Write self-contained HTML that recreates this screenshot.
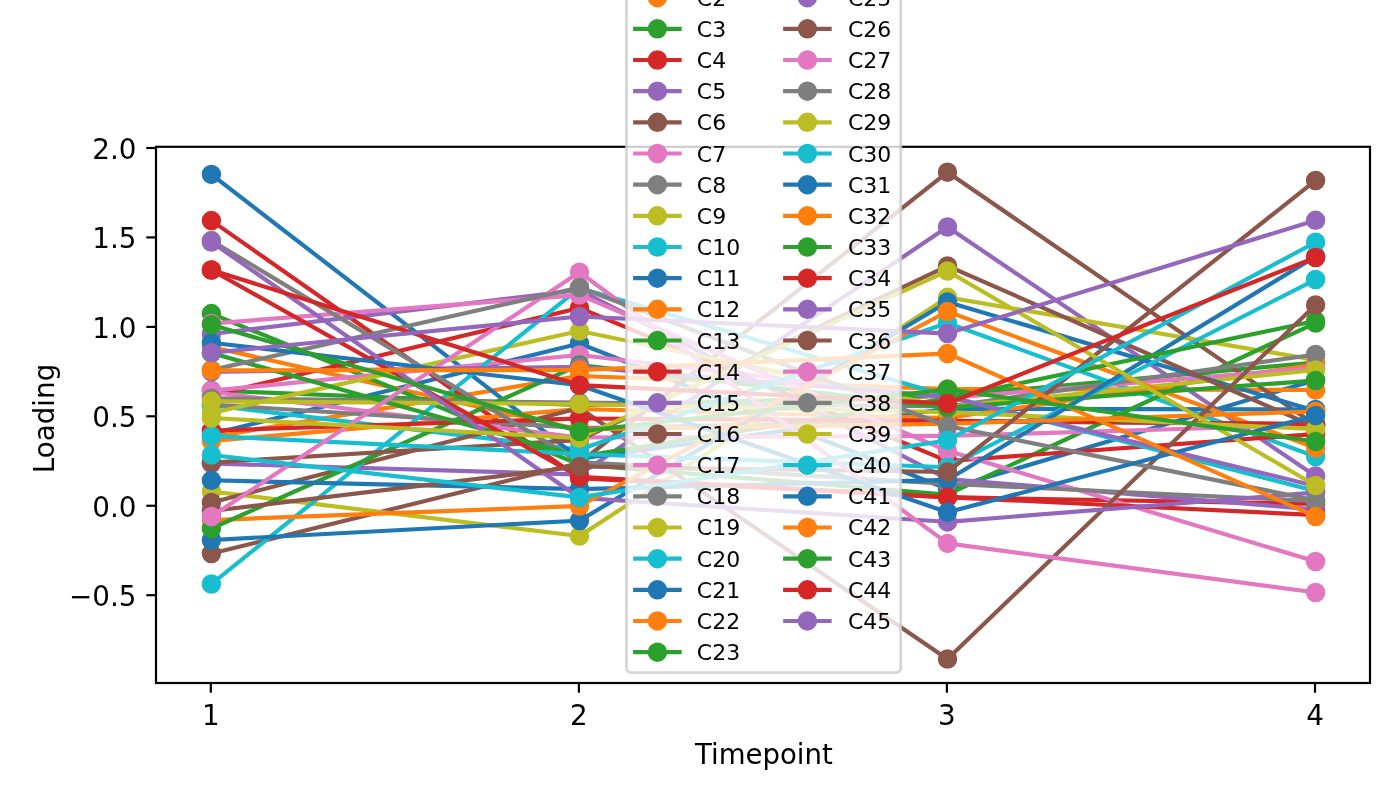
<!DOCTYPE html>
<html lang="en"><head><meta charset="utf-8"><title>Loading by Timepoint</title>
<style>html,body{margin:0;padding:0;background:#fff;}body{width:1400px;height:800px;overflow:hidden;}svg{display:block;}text{font-family:"DejaVu Sans","Liberation Sans",sans-serif;fill:#000;}</style></head><body>
<svg width="1400" height="800" viewBox="0 0 1400 800">
<rect x="0" y="0" width="1400" height="800" fill="#fff"/>
<defs><clipPath id="ax"><rect x="156.0" y="146.8" width="1214.0" height="536.2"/></clipPath></defs>
<g clip-path="url(#ax)" fill="none" stroke-width="4.17" stroke-linejoin="round" stroke-linecap="square">
<line x1="211.4" y1="434.0" x2="579.5" y2="343.5" stroke="#1f77b4"/>
<line x1="579.5" y1="343.5" x2="947.5" y2="489.0" stroke="#1f77b4"/>
<line x1="947.5" y1="489.0" x2="1315.6" y2="380.0" stroke="#1f77b4"/>
<circle cx="211.4" cy="434.0" r="8.35" fill="#1f77b4" stroke="#1f77b4" stroke-width="2.78"/>
<circle cx="579.5" cy="343.5" r="8.35" fill="#1f77b4" stroke="#1f77b4" stroke-width="2.78"/>
<circle cx="947.5" cy="489.0" r="8.35" fill="#1f77b4" stroke="#1f77b4" stroke-width="2.78"/>
<circle cx="1315.6" cy="380.0" r="8.35" fill="#1f77b4" stroke="#1f77b4" stroke-width="2.78"/>
<line x1="211.4" y1="437.0" x2="579.5" y2="376.0" stroke="#ff7f0e"/>
<line x1="579.5" y1="376.0" x2="947.5" y2="389.0" stroke="#ff7f0e"/>
<line x1="947.5" y1="389.0" x2="1315.6" y2="390.0" stroke="#ff7f0e"/>
<circle cx="211.4" cy="437.0" r="8.35" fill="#ff7f0e" stroke="#ff7f0e" stroke-width="2.78"/>
<circle cx="579.5" cy="376.0" r="8.35" fill="#ff7f0e" stroke="#ff7f0e" stroke-width="2.78"/>
<circle cx="947.5" cy="389.0" r="8.35" fill="#ff7f0e" stroke="#ff7f0e" stroke-width="2.78"/>
<circle cx="1315.6" cy="390.0" r="8.35" fill="#ff7f0e" stroke="#ff7f0e" stroke-width="2.78"/>
<line x1="211.4" y1="390.5" x2="579.5" y2="405.0" stroke="#2ca02c"/>
<line x1="579.5" y1="405.0" x2="947.5" y2="396.0" stroke="#2ca02c"/>
<line x1="947.5" y1="396.0" x2="1315.6" y2="362.5" stroke="#2ca02c"/>
<circle cx="211.4" cy="390.5" r="8.35" fill="#2ca02c" stroke="#2ca02c" stroke-width="2.78"/>
<circle cx="579.5" cy="405.0" r="8.35" fill="#2ca02c" stroke="#2ca02c" stroke-width="2.78"/>
<circle cx="947.5" cy="396.0" r="8.35" fill="#2ca02c" stroke="#2ca02c" stroke-width="2.78"/>
<circle cx="1315.6" cy="362.5" r="8.35" fill="#2ca02c" stroke="#2ca02c" stroke-width="2.78"/>
<line x1="211.4" y1="220.6" x2="579.5" y2="478.3" stroke="#d62728"/>
<line x1="579.5" y1="478.3" x2="947.5" y2="497.2" stroke="#d62728"/>
<line x1="947.5" y1="497.2" x2="1315.6" y2="504.0" stroke="#d62728"/>
<circle cx="947.5" cy="398.5" r="8.35" fill="#2ca02c" stroke="#2ca02c" stroke-width="2.78"/>
<circle cx="211.4" cy="220.6" r="8.35" fill="#d62728" stroke="#d62728" stroke-width="2.78"/>
<circle cx="579.5" cy="478.3" r="8.35" fill="#d62728" stroke="#d62728" stroke-width="2.78"/>
<circle cx="947.5" cy="497.2" r="8.35" fill="#d62728" stroke="#d62728" stroke-width="2.78"/>
<circle cx="1315.6" cy="504.0" r="8.35" fill="#d62728" stroke="#d62728" stroke-width="2.78"/>
<line x1="211.4" y1="463.5" x2="579.5" y2="474.5" stroke="#9467bd"/>
<line x1="579.5" y1="474.5" x2="947.5" y2="227.0" stroke="#9467bd"/>
<line x1="947.5" y1="227.0" x2="1315.6" y2="476.0" stroke="#9467bd"/>
<circle cx="211.4" cy="463.5" r="8.35" fill="#9467bd" stroke="#9467bd" stroke-width="2.78"/>
<circle cx="579.5" cy="474.5" r="8.35" fill="#9467bd" stroke="#9467bd" stroke-width="2.78"/>
<circle cx="947.5" cy="227.0" r="8.35" fill="#9467bd" stroke="#9467bd" stroke-width="2.78"/>
<circle cx="1315.6" cy="476.0" r="8.35" fill="#9467bd" stroke="#9467bd" stroke-width="2.78"/>
<line x1="211.4" y1="553.5" x2="579.5" y2="463.0" stroke="#8c564b"/>
<line x1="579.5" y1="463.0" x2="947.5" y2="172.2" stroke="#8c564b"/>
<line x1="947.5" y1="172.2" x2="1315.6" y2="425.0" stroke="#8c564b"/>
<circle cx="211.4" cy="553.5" r="8.35" fill="#8c564b" stroke="#8c564b" stroke-width="2.78"/>
<circle cx="579.5" cy="463.0" r="8.35" fill="#8c564b" stroke="#8c564b" stroke-width="2.78"/>
<circle cx="947.5" cy="172.2" r="8.35" fill="#8c564b" stroke="#8c564b" stroke-width="2.78"/>
<circle cx="1315.6" cy="425.0" r="8.35" fill="#8c564b" stroke="#8c564b" stroke-width="2.78"/>
<line x1="579.5" y1="355.0" x2="947.5" y2="398.0" stroke="#e377c2"/>
<circle cx="211.4" cy="390.7" r="8.35" fill="#e377c2" stroke="#e377c2" stroke-width="2.78"/>
<circle cx="579.5" cy="355.0" r="8.35" fill="#e377c2" stroke="#e377c2" stroke-width="2.78"/>
<circle cx="947.5" cy="398.0" r="8.35" fill="#e377c2" stroke="#e377c2" stroke-width="2.78"/>
<line x1="579.5" y1="428.0" x2="947.5" y2="421.0" stroke="#7f7f7f"/>
<line x1="947.5" y1="421.0" x2="1315.6" y2="424.2" stroke="#7f7f7f"/>
<circle cx="211.4" cy="404.5" r="8.35" fill="#7f7f7f" stroke="#7f7f7f" stroke-width="2.78"/>
<circle cx="579.5" cy="428.0" r="8.35" fill="#7f7f7f" stroke="#7f7f7f" stroke-width="2.78"/>
<circle cx="947.5" cy="421.0" r="8.35" fill="#7f7f7f" stroke="#7f7f7f" stroke-width="2.78"/>
<circle cx="1315.6" cy="424.2" r="8.35" fill="#7f7f7f" stroke="#7f7f7f" stroke-width="2.78"/>
<line x1="211.4" y1="491.5" x2="579.5" y2="536.0" stroke="#bcbd22"/>
<line x1="579.5" y1="536.0" x2="947.5" y2="297.3" stroke="#bcbd22"/>
<line x1="947.5" y1="297.3" x2="1315.6" y2="360.0" stroke="#bcbd22"/>
<circle cx="211.4" cy="491.5" r="8.35" fill="#bcbd22" stroke="#bcbd22" stroke-width="2.78"/>
<circle cx="579.5" cy="536.0" r="8.35" fill="#bcbd22" stroke="#bcbd22" stroke-width="2.78"/>
<circle cx="947.5" cy="297.3" r="8.35" fill="#bcbd22" stroke="#bcbd22" stroke-width="2.78"/>
<circle cx="1315.6" cy="360.0" r="8.35" fill="#bcbd22" stroke="#bcbd22" stroke-width="2.78"/>
<line x1="211.4" y1="405.3" x2="579.5" y2="449.5" stroke="#17becf"/>
<line x1="947.5" y1="323.0" x2="1315.6" y2="456.5" stroke="#17becf"/>
<circle cx="211.4" cy="405.3" r="8.35" fill="#17becf" stroke="#17becf" stroke-width="2.78"/>
<circle cx="947.5" cy="323.0" r="8.35" fill="#17becf" stroke="#17becf" stroke-width="2.78"/>
<circle cx="1315.6" cy="456.5" r="8.35" fill="#17becf" stroke="#17becf" stroke-width="2.78"/>
<line x1="211.4" y1="174.4" x2="579.5" y2="458.6" stroke="#1f77b4"/>
<line x1="579.5" y1="458.6" x2="947.5" y2="408.8" stroke="#1f77b4"/>
<line x1="947.5" y1="408.8" x2="1315.6" y2="409.5" stroke="#1f77b4"/>
<circle cx="211.4" cy="174.4" r="8.35" fill="#1f77b4" stroke="#1f77b4" stroke-width="2.78"/>
<circle cx="579.5" cy="458.6" r="8.35" fill="#1f77b4" stroke="#1f77b4" stroke-width="2.78"/>
<circle cx="947.5" cy="408.8" r="8.35" fill="#1f77b4" stroke="#1f77b4" stroke-width="2.78"/>
<circle cx="1315.6" cy="409.5" r="8.35" fill="#1f77b4" stroke="#1f77b4" stroke-width="2.78"/>
<circle cx="579.5" cy="408.0" r="8.35" fill="#8c564b" stroke="#8c564b" stroke-width="2.78"/>
<line x1="211.4" y1="347.0" x2="579.5" y2="429.5" stroke="#ff7f0e"/>
<line x1="211.4" y1="441.0" x2="579.5" y2="409.0" stroke="#ff7f0e"/>
<line x1="579.5" y1="409.0" x2="947.5" y2="418.0" stroke="#ff7f0e"/>
<line x1="947.5" y1="418.0" x2="1315.6" y2="364.5" stroke="#ff7f0e"/>
<circle cx="211.4" cy="441.0" r="8.35" fill="#ff7f0e" stroke="#ff7f0e" stroke-width="2.78"/>
<circle cx="579.5" cy="409.0" r="8.35" fill="#ff7f0e" stroke="#ff7f0e" stroke-width="2.78"/>
<circle cx="947.5" cy="418.0" r="8.35" fill="#ff7f0e" stroke="#ff7f0e" stroke-width="2.78"/>
<circle cx="1315.6" cy="364.5" r="8.35" fill="#ff7f0e" stroke="#ff7f0e" stroke-width="2.78"/>
<line x1="211.4" y1="313.6" x2="579.5" y2="464.5" stroke="#2ca02c"/>
<line x1="579.5" y1="464.5" x2="947.5" y2="494.6" stroke="#2ca02c"/>
<line x1="947.5" y1="494.6" x2="1315.6" y2="323.0" stroke="#2ca02c"/>
<line x1="947.5" y1="398.0" x2="1315.6" y2="368.0" stroke="#e377c2"/>
<circle cx="211.4" cy="313.6" r="8.35" fill="#2ca02c" stroke="#2ca02c" stroke-width="2.78"/>
<circle cx="579.5" cy="464.5" r="8.35" fill="#2ca02c" stroke="#2ca02c" stroke-width="2.78"/>
<circle cx="947.5" cy="494.6" r="8.35" fill="#2ca02c" stroke="#2ca02c" stroke-width="2.78"/>
<circle cx="1315.6" cy="323.0" r="8.35" fill="#2ca02c" stroke="#2ca02c" stroke-width="2.78"/>
<circle cx="1315.6" cy="368.0" r="8.35" fill="#e377c2" stroke="#e377c2" stroke-width="2.78"/>
<line x1="211.4" y1="395.6" x2="579.5" y2="308.0" stroke="#d62728"/>
<line x1="579.5" y1="308.0" x2="947.5" y2="461.0" stroke="#d62728"/>
<line x1="947.5" y1="461.0" x2="1315.6" y2="434.0" stroke="#d62728"/>
<circle cx="211.4" cy="395.6" r="8.35" fill="#d62728" stroke="#d62728" stroke-width="2.78"/>
<circle cx="579.5" cy="308.0" r="8.35" fill="#d62728" stroke="#d62728" stroke-width="2.78"/>
<circle cx="947.5" cy="461.0" r="8.35" fill="#d62728" stroke="#d62728" stroke-width="2.78"/>
<circle cx="1315.6" cy="434.0" r="8.35" fill="#d62728" stroke="#d62728" stroke-width="2.78"/>
<line x1="211.4" y1="334.0" x2="579.5" y2="290.0" stroke="#9467bd"/>
<line x1="579.5" y1="290.0" x2="947.5" y2="479.0" stroke="#9467bd"/>
<line x1="947.5" y1="479.0" x2="1315.6" y2="509.5" stroke="#9467bd"/>
<line x1="211.4" y1="390.7" x2="579.5" y2="355.0" stroke="#e377c2"/>
<circle cx="211.4" cy="334.0" r="8.35" fill="#9467bd" stroke="#9467bd" stroke-width="2.78"/>
<circle cx="579.5" cy="290.0" r="8.35" fill="#9467bd" stroke="#9467bd" stroke-width="2.78"/>
<circle cx="947.5" cy="479.0" r="8.35" fill="#9467bd" stroke="#9467bd" stroke-width="2.78"/>
<circle cx="1315.6" cy="509.5" r="8.35" fill="#9467bd" stroke="#9467bd" stroke-width="2.78"/>
<line x1="211.4" y1="502.5" x2="579.5" y2="408.0" stroke="#8c564b"/>
<line x1="579.5" y1="408.0" x2="947.5" y2="659.0" stroke="#8c564b"/>
<circle cx="211.4" cy="502.5" r="8.35" fill="#8c564b" stroke="#8c564b" stroke-width="2.78"/>
<circle cx="947.5" cy="659.0" r="8.35" fill="#8c564b" stroke="#8c564b" stroke-width="2.78"/>
<line x1="211.4" y1="392.0" x2="579.5" y2="437.5" stroke="#e377c2"/>
<line x1="579.5" y1="437.5" x2="947.5" y2="435.8" stroke="#e377c2"/>
<line x1="947.5" y1="435.8" x2="1315.6" y2="425.0" stroke="#e377c2"/>
<circle cx="211.4" cy="392.0" r="8.35" fill="#e377c2" stroke="#e377c2" stroke-width="2.78"/>
<circle cx="579.5" cy="437.5" r="8.35" fill="#e377c2" stroke="#e377c2" stroke-width="2.78"/>
<circle cx="947.5" cy="435.8" r="8.35" fill="#e377c2" stroke="#e377c2" stroke-width="2.78"/>
<circle cx="1315.6" cy="425.0" r="8.35" fill="#e377c2" stroke="#e377c2" stroke-width="2.78"/>
<line x1="211.4" y1="404.5" x2="579.5" y2="428.0" stroke="#7f7f7f"/>
<line x1="579.5" y1="456.5" x2="947.5" y2="398.5" stroke="#2ca02c"/>
<line x1="211.4" y1="398.3" x2="579.5" y2="402.6" stroke="#7f7f7f"/>
<line x1="579.5" y1="402.6" x2="947.5" y2="406.5" stroke="#7f7f7f"/>
<line x1="947.5" y1="406.5" x2="1315.6" y2="354.5" stroke="#7f7f7f"/>
<circle cx="211.4" cy="398.3" r="8.35" fill="#7f7f7f" stroke="#7f7f7f" stroke-width="2.78"/>
<circle cx="579.5" cy="402.6" r="8.35" fill="#7f7f7f" stroke="#7f7f7f" stroke-width="2.78"/>
<circle cx="947.5" cy="406.5" r="8.35" fill="#7f7f7f" stroke="#7f7f7f" stroke-width="2.78"/>
<circle cx="1315.6" cy="354.5" r="8.35" fill="#7f7f7f" stroke="#7f7f7f" stroke-width="2.78"/>
<line x1="211.4" y1="413.0" x2="579.5" y2="331.0" stroke="#bcbd22"/>
<line x1="579.5" y1="331.0" x2="947.5" y2="407.0" stroke="#bcbd22"/>
<line x1="947.5" y1="407.0" x2="1315.6" y2="370.0" stroke="#bcbd22"/>
<circle cx="211.4" cy="413.0" r="8.35" fill="#bcbd22" stroke="#bcbd22" stroke-width="2.78"/>
<circle cx="579.5" cy="331.0" r="8.35" fill="#bcbd22" stroke="#bcbd22" stroke-width="2.78"/>
<circle cx="947.5" cy="407.0" r="8.35" fill="#bcbd22" stroke="#bcbd22" stroke-width="2.78"/>
<circle cx="1315.6" cy="370.0" r="8.35" fill="#bcbd22" stroke="#bcbd22" stroke-width="2.78"/>
<line x1="211.4" y1="584.0" x2="579.5" y2="288.0" stroke="#17becf"/>
<line x1="579.5" y1="288.0" x2="947.5" y2="396.0" stroke="#17becf"/>
<line x1="947.5" y1="396.0" x2="1315.6" y2="491.0" stroke="#17becf"/>
<circle cx="579.5" cy="429.5" r="8.35" fill="#ff7f0e" stroke="#ff7f0e" stroke-width="2.78"/>
<circle cx="211.4" cy="584.0" r="8.35" fill="#17becf" stroke="#17becf" stroke-width="2.78"/>
<circle cx="579.5" cy="288.0" r="8.35" fill="#17becf" stroke="#17becf" stroke-width="2.78"/>
<circle cx="947.5" cy="396.0" r="8.35" fill="#17becf" stroke="#17becf" stroke-width="2.78"/>
<circle cx="1315.6" cy="491.0" r="8.35" fill="#17becf" stroke="#17becf" stroke-width="2.78"/>
<line x1="211.4" y1="540.0" x2="579.5" y2="520.6" stroke="#1f77b4"/>
<line x1="579.5" y1="520.6" x2="947.5" y2="302.0" stroke="#1f77b4"/>
<line x1="947.5" y1="302.0" x2="1315.6" y2="411.0" stroke="#1f77b4"/>
<circle cx="211.4" cy="540.0" r="8.35" fill="#1f77b4" stroke="#1f77b4" stroke-width="2.78"/>
<circle cx="579.5" cy="520.6" r="8.35" fill="#1f77b4" stroke="#1f77b4" stroke-width="2.78"/>
<circle cx="947.5" cy="302.0" r="8.35" fill="#1f77b4" stroke="#1f77b4" stroke-width="2.78"/>
<circle cx="1315.6" cy="411.0" r="8.35" fill="#1f77b4" stroke="#1f77b4" stroke-width="2.78"/>
<line x1="211.4" y1="520.0" x2="579.5" y2="506.0" stroke="#ff7f0e"/>
<line x1="947.5" y1="311.5" x2="1315.6" y2="448.0" stroke="#ff7f0e"/>
<circle cx="211.4" cy="520.0" r="8.35" fill="#ff7f0e" stroke="#ff7f0e" stroke-width="2.78"/>
<circle cx="579.5" cy="506.0" r="8.35" fill="#ff7f0e" stroke="#ff7f0e" stroke-width="2.78"/>
<circle cx="947.5" cy="311.5" r="8.35" fill="#ff7f0e" stroke="#ff7f0e" stroke-width="2.78"/>
<circle cx="1315.6" cy="448.0" r="8.35" fill="#ff7f0e" stroke="#ff7f0e" stroke-width="2.78"/>
<line x1="211.4" y1="528.5" x2="579.5" y2="365.0" stroke="#2ca02c"/>
<line x1="579.5" y1="365.0" x2="947.5" y2="407.6" stroke="#2ca02c"/>
<line x1="947.5" y1="407.6" x2="1315.6" y2="380.5" stroke="#2ca02c"/>
<circle cx="211.4" cy="528.5" r="8.35" fill="#2ca02c" stroke="#2ca02c" stroke-width="2.78"/>
<circle cx="579.5" cy="365.0" r="8.35" fill="#2ca02c" stroke="#2ca02c" stroke-width="2.78"/>
<circle cx="1315.6" cy="380.5" r="8.35" fill="#2ca02c" stroke="#2ca02c" stroke-width="2.78"/>
<line x1="211.4" y1="430.5" x2="579.5" y2="418.5" stroke="#d62728"/>
<line x1="579.5" y1="418.5" x2="947.5" y2="420.8" stroke="#d62728"/>
<line x1="947.5" y1="420.8" x2="1315.6" y2="424.0" stroke="#d62728"/>
<circle cx="211.4" cy="430.5" r="8.35" fill="#d62728" stroke="#d62728" stroke-width="2.78"/>
<circle cx="579.5" cy="418.5" r="8.35" fill="#d62728" stroke="#d62728" stroke-width="2.78"/>
<circle cx="947.5" cy="420.8" r="8.35" fill="#d62728" stroke="#d62728" stroke-width="2.78"/>
<circle cx="1315.6" cy="424.0" r="8.35" fill="#d62728" stroke="#d62728" stroke-width="2.78"/>
<line x1="211.4" y1="371.8" x2="579.5" y2="366.8" stroke="#9467bd"/>
<line x1="579.5" y1="366.8" x2="947.5" y2="396.8" stroke="#9467bd"/>
<line x1="947.5" y1="396.8" x2="1315.6" y2="486.0" stroke="#9467bd"/>
<circle cx="211.4" cy="371.8" r="8.35" fill="#9467bd" stroke="#9467bd" stroke-width="2.78"/>
<circle cx="579.5" cy="366.8" r="8.35" fill="#9467bd" stroke="#9467bd" stroke-width="2.78"/>
<circle cx="947.5" cy="396.8" r="8.35" fill="#9467bd" stroke="#9467bd" stroke-width="2.78"/>
<circle cx="1315.6" cy="486.0" r="8.35" fill="#9467bd" stroke="#9467bd" stroke-width="2.78"/>
<line x1="211.4" y1="462.5" x2="579.5" y2="440.0" stroke="#8c564b"/>
<line x1="579.5" y1="440.0" x2="947.5" y2="266.0" stroke="#8c564b"/>
<line x1="947.5" y1="266.0" x2="1315.6" y2="427.0" stroke="#8c564b"/>
<circle cx="211.4" cy="462.5" r="8.35" fill="#8c564b" stroke="#8c564b" stroke-width="2.78"/>
<circle cx="579.5" cy="440.0" r="8.35" fill="#8c564b" stroke="#8c564b" stroke-width="2.78"/>
<circle cx="947.5" cy="266.0" r="8.35" fill="#8c564b" stroke="#8c564b" stroke-width="2.78"/>
<circle cx="1315.6" cy="427.0" r="8.35" fill="#8c564b" stroke="#8c564b" stroke-width="2.78"/>
<line x1="211.4" y1="323.5" x2="579.5" y2="295.0" stroke="#e377c2"/>
<line x1="579.5" y1="295.0" x2="947.5" y2="450.8" stroke="#e377c2"/>
<line x1="947.5" y1="450.8" x2="1315.6" y2="561.5" stroke="#e377c2"/>
<circle cx="211.4" cy="323.5" r="8.35" fill="#e377c2" stroke="#e377c2" stroke-width="2.78"/>
<circle cx="579.5" cy="295.0" r="8.35" fill="#e377c2" stroke="#e377c2" stroke-width="2.78"/>
<circle cx="947.5" cy="450.8" r="8.35" fill="#e377c2" stroke="#e377c2" stroke-width="2.78"/>
<circle cx="1315.6" cy="561.5" r="8.35" fill="#e377c2" stroke="#e377c2" stroke-width="2.78"/>
<line x1="211.4" y1="240.6" x2="579.5" y2="462.0" stroke="#7f7f7f"/>
<line x1="579.5" y1="462.0" x2="947.5" y2="483.8" stroke="#7f7f7f"/>
<line x1="947.5" y1="483.8" x2="1315.6" y2="501.0" stroke="#7f7f7f"/>
<circle cx="211.4" cy="240.6" r="8.35" fill="#7f7f7f" stroke="#7f7f7f" stroke-width="2.78"/>
<circle cx="579.5" cy="462.0" r="8.35" fill="#7f7f7f" stroke="#7f7f7f" stroke-width="2.78"/>
<circle cx="947.5" cy="483.8" r="8.35" fill="#7f7f7f" stroke="#7f7f7f" stroke-width="2.78"/>
<circle cx="1315.6" cy="501.0" r="8.35" fill="#7f7f7f" stroke="#7f7f7f" stroke-width="2.78"/>
<line x1="211.4" y1="401.3" x2="579.5" y2="404.0" stroke="#bcbd22"/>
<line x1="579.5" y1="404.0" x2="947.5" y2="412.2" stroke="#bcbd22"/>
<line x1="947.5" y1="412.2" x2="1315.6" y2="429.0" stroke="#bcbd22"/>
<circle cx="211.4" cy="401.3" r="8.35" fill="#bcbd22" stroke="#bcbd22" stroke-width="2.78"/>
<circle cx="579.5" cy="404.0" r="8.35" fill="#bcbd22" stroke="#bcbd22" stroke-width="2.78"/>
<circle cx="947.5" cy="412.2" r="8.35" fill="#bcbd22" stroke="#bcbd22" stroke-width="2.78"/>
<circle cx="1315.6" cy="429.0" r="8.35" fill="#bcbd22" stroke="#bcbd22" stroke-width="2.78"/>
<line x1="947.5" y1="467.2" x2="1315.6" y2="279.5" stroke="#17becf"/>
<circle cx="211.4" cy="436.0" r="8.35" fill="#17becf" stroke="#17becf" stroke-width="2.78"/>
<circle cx="947.5" cy="467.2" r="8.35" fill="#17becf" stroke="#17becf" stroke-width="2.78"/>
<circle cx="1315.6" cy="279.5" r="8.35" fill="#17becf" stroke="#17becf" stroke-width="2.78"/>
<line x1="211.4" y1="480.3" x2="579.5" y2="489.0" stroke="#1f77b4"/>
<line x1="579.5" y1="489.0" x2="947.5" y2="480.0" stroke="#1f77b4"/>
<line x1="947.5" y1="480.0" x2="1315.6" y2="256.5" stroke="#1f77b4"/>
<circle cx="211.4" cy="480.3" r="8.35" fill="#1f77b4" stroke="#1f77b4" stroke-width="2.78"/>
<circle cx="579.5" cy="489.0" r="8.35" fill="#1f77b4" stroke="#1f77b4" stroke-width="2.78"/>
<circle cx="947.5" cy="480.0" r="8.35" fill="#1f77b4" stroke="#1f77b4" stroke-width="2.78"/>
<circle cx="1315.6" cy="256.5" r="8.35" fill="#1f77b4" stroke="#1f77b4" stroke-width="2.78"/>
<line x1="579.5" y1="429.5" x2="947.5" y2="423.8" stroke="#ff7f0e"/>
<line x1="947.5" y1="423.8" x2="1315.6" y2="411.5" stroke="#ff7f0e"/>
<circle cx="211.4" cy="347.0" r="8.35" fill="#ff7f0e" stroke="#ff7f0e" stroke-width="2.78"/>
<circle cx="947.5" cy="423.8" r="8.35" fill="#ff7f0e" stroke="#ff7f0e" stroke-width="2.78"/>
<circle cx="1315.6" cy="411.5" r="8.35" fill="#ff7f0e" stroke="#ff7f0e" stroke-width="2.78"/>
<line x1="211.4" y1="353.0" x2="579.5" y2="456.5" stroke="#2ca02c"/>
<line x1="947.5" y1="398.5" x2="1315.6" y2="321.0" stroke="#2ca02c"/>
<circle cx="211.4" cy="353.0" r="8.35" fill="#2ca02c" stroke="#2ca02c" stroke-width="2.78"/>
<circle cx="579.5" cy="456.5" r="8.35" fill="#2ca02c" stroke="#2ca02c" stroke-width="2.78"/>
<circle cx="1315.6" cy="321.0" r="8.35" fill="#2ca02c" stroke="#2ca02c" stroke-width="2.78"/>
<line x1="211.4" y1="436.0" x2="579.5" y2="454.0" stroke="#17becf"/>
<line x1="579.5" y1="454.0" x2="947.5" y2="467.2" stroke="#17becf"/>
<line x1="211.4" y1="270.0" x2="579.5" y2="476.8" stroke="#d62728"/>
<line x1="579.5" y1="476.8" x2="947.5" y2="497.2" stroke="#d62728"/>
<line x1="947.5" y1="497.2" x2="1315.6" y2="515.0" stroke="#d62728"/>
<line x1="947.5" y1="659.0" x2="1315.6" y2="305.0" stroke="#8c564b"/>
<line x1="579.5" y1="449.5" x2="947.5" y2="323.0" stroke="#17becf"/>
<circle cx="947.5" cy="407.6" r="8.35" fill="#2ca02c" stroke="#2ca02c" stroke-width="2.78"/>
<circle cx="211.4" cy="270.0" r="8.35" fill="#d62728" stroke="#d62728" stroke-width="2.78"/>
<circle cx="579.5" cy="476.8" r="8.35" fill="#d62728" stroke="#d62728" stroke-width="2.78"/>
<circle cx="947.5" cy="497.2" r="8.35" fill="#d62728" stroke="#d62728" stroke-width="2.78"/>
<circle cx="1315.6" cy="515.0" r="8.35" fill="#d62728" stroke="#d62728" stroke-width="2.78"/>
<circle cx="1315.6" cy="305.0" r="8.35" fill="#8c564b" stroke="#8c564b" stroke-width="2.78"/>
<circle cx="579.5" cy="449.5" r="8.35" fill="#17becf" stroke="#17becf" stroke-width="2.78"/>
<circle cx="579.5" cy="454.0" r="8.35" fill="#17becf" stroke="#17becf" stroke-width="2.78"/>
<line x1="211.4" y1="242.0" x2="579.5" y2="497.8" stroke="#9467bd"/>
<line x1="579.5" y1="497.8" x2="947.5" y2="521.9" stroke="#9467bd"/>
<line x1="947.5" y1="521.9" x2="1315.6" y2="492.5" stroke="#9467bd"/>
<circle cx="211.4" cy="242.0" r="8.35" fill="#9467bd" stroke="#9467bd" stroke-width="2.78"/>
<circle cx="579.5" cy="497.8" r="8.35" fill="#9467bd" stroke="#9467bd" stroke-width="2.78"/>
<circle cx="947.5" cy="521.9" r="8.35" fill="#9467bd" stroke="#9467bd" stroke-width="2.78"/>
<circle cx="1315.6" cy="492.5" r="8.35" fill="#9467bd" stroke="#9467bd" stroke-width="2.78"/>
<line x1="579.5" y1="506.0" x2="947.5" y2="311.5" stroke="#ff7f0e"/>
<line x1="211.4" y1="511.0" x2="579.5" y2="466.5" stroke="#8c564b"/>
<line x1="579.5" y1="466.5" x2="947.5" y2="472.0" stroke="#8c564b"/>
<line x1="947.5" y1="472.0" x2="1315.6" y2="180.5" stroke="#8c564b"/>
<circle cx="211.4" cy="511.0" r="8.35" fill="#8c564b" stroke="#8c564b" stroke-width="2.78"/>
<circle cx="579.5" cy="466.5" r="8.35" fill="#8c564b" stroke="#8c564b" stroke-width="2.78"/>
<circle cx="947.5" cy="472.0" r="8.35" fill="#8c564b" stroke="#8c564b" stroke-width="2.78"/>
<circle cx="1315.6" cy="180.5" r="8.35" fill="#8c564b" stroke="#8c564b" stroke-width="2.78"/>
<line x1="211.4" y1="516.5" x2="579.5" y2="272.2" stroke="#e377c2"/>
<line x1="579.5" y1="272.2" x2="947.5" y2="543.4" stroke="#e377c2"/>
<line x1="947.5" y1="543.4" x2="1315.6" y2="592.5" stroke="#e377c2"/>
<circle cx="211.4" cy="516.5" r="8.35" fill="#e377c2" stroke="#e377c2" stroke-width="2.78"/>
<circle cx="579.5" cy="272.2" r="8.35" fill="#e377c2" stroke="#e377c2" stroke-width="2.78"/>
<circle cx="947.5" cy="543.4" r="8.35" fill="#e377c2" stroke="#e377c2" stroke-width="2.78"/>
<circle cx="1315.6" cy="592.5" r="8.35" fill="#e377c2" stroke="#e377c2" stroke-width="2.78"/>
<line x1="211.4" y1="370.0" x2="579.5" y2="287.5" stroke="#7f7f7f"/>
<line x1="579.5" y1="287.5" x2="947.5" y2="426.0" stroke="#7f7f7f"/>
<line x1="947.5" y1="426.0" x2="1315.6" y2="500.3" stroke="#7f7f7f"/>
<circle cx="211.4" cy="370.0" r="8.35" fill="#7f7f7f" stroke="#7f7f7f" stroke-width="2.78"/>
<circle cx="579.5" cy="287.5" r="8.35" fill="#7f7f7f" stroke="#7f7f7f" stroke-width="2.78"/>
<circle cx="947.5" cy="426.0" r="8.35" fill="#7f7f7f" stroke="#7f7f7f" stroke-width="2.78"/>
<circle cx="1315.6" cy="500.3" r="8.35" fill="#7f7f7f" stroke="#7f7f7f" stroke-width="2.78"/>
<line x1="211.4" y1="418.0" x2="579.5" y2="438.0" stroke="#bcbd22"/>
<line x1="579.5" y1="438.0" x2="947.5" y2="271.0" stroke="#bcbd22"/>
<line x1="947.5" y1="271.0" x2="1315.6" y2="485.5" stroke="#bcbd22"/>
<circle cx="211.4" cy="418.0" r="8.35" fill="#bcbd22" stroke="#bcbd22" stroke-width="2.78"/>
<circle cx="579.5" cy="438.0" r="8.35" fill="#bcbd22" stroke="#bcbd22" stroke-width="2.78"/>
<circle cx="947.5" cy="271.0" r="8.35" fill="#bcbd22" stroke="#bcbd22" stroke-width="2.78"/>
<circle cx="1315.6" cy="485.5" r="8.35" fill="#bcbd22" stroke="#bcbd22" stroke-width="2.78"/>
<line x1="211.4" y1="455.0" x2="579.5" y2="497.4" stroke="#17becf"/>
<line x1="579.5" y1="497.4" x2="947.5" y2="440.3" stroke="#17becf"/>
<line x1="947.5" y1="440.3" x2="1315.6" y2="242.2" stroke="#17becf"/>
<circle cx="211.4" cy="455.0" r="8.35" fill="#17becf" stroke="#17becf" stroke-width="2.78"/>
<circle cx="579.5" cy="497.4" r="8.35" fill="#17becf" stroke="#17becf" stroke-width="2.78"/>
<circle cx="947.5" cy="440.3" r="8.35" fill="#17becf" stroke="#17becf" stroke-width="2.78"/>
<circle cx="1315.6" cy="242.2" r="8.35" fill="#17becf" stroke="#17becf" stroke-width="2.78"/>
<line x1="211.4" y1="342.7" x2="579.5" y2="385.3" stroke="#1f77b4"/>
<line x1="579.5" y1="385.3" x2="947.5" y2="512.3" stroke="#1f77b4"/>
<line x1="947.5" y1="512.3" x2="1315.6" y2="415.5" stroke="#1f77b4"/>
<circle cx="211.4" cy="342.7" r="8.35" fill="#1f77b4" stroke="#1f77b4" stroke-width="2.78"/>
<circle cx="579.5" cy="385.3" r="8.35" fill="#1f77b4" stroke="#1f77b4" stroke-width="2.78"/>
<circle cx="947.5" cy="512.3" r="8.35" fill="#1f77b4" stroke="#1f77b4" stroke-width="2.78"/>
<circle cx="1315.6" cy="415.5" r="8.35" fill="#1f77b4" stroke="#1f77b4" stroke-width="2.78"/>
<line x1="211.4" y1="370.3" x2="579.5" y2="370.0" stroke="#ff7f0e"/>
<line x1="579.5" y1="370.0" x2="947.5" y2="353.5" stroke="#ff7f0e"/>
<line x1="947.5" y1="353.5" x2="1315.6" y2="516.5" stroke="#ff7f0e"/>
<circle cx="211.4" cy="370.3" r="8.35" fill="#ff7f0e" stroke="#ff7f0e" stroke-width="2.78"/>
<circle cx="579.5" cy="370.0" r="8.35" fill="#ff7f0e" stroke="#ff7f0e" stroke-width="2.78"/>
<circle cx="947.5" cy="353.5" r="8.35" fill="#ff7f0e" stroke="#ff7f0e" stroke-width="2.78"/>
<circle cx="1315.6" cy="516.5" r="8.35" fill="#ff7f0e" stroke="#ff7f0e" stroke-width="2.78"/>
<line x1="211.4" y1="324.8" x2="579.5" y2="431.5" stroke="#2ca02c"/>
<line x1="579.5" y1="431.5" x2="947.5" y2="389.3" stroke="#2ca02c"/>
<line x1="947.5" y1="389.3" x2="1315.6" y2="441.5" stroke="#2ca02c"/>
<circle cx="211.4" cy="324.8" r="8.35" fill="#2ca02c" stroke="#2ca02c" stroke-width="2.78"/>
<circle cx="579.5" cy="431.5" r="8.35" fill="#2ca02c" stroke="#2ca02c" stroke-width="2.78"/>
<circle cx="947.5" cy="389.3" r="8.35" fill="#2ca02c" stroke="#2ca02c" stroke-width="2.78"/>
<circle cx="1315.6" cy="441.5" r="8.35" fill="#2ca02c" stroke="#2ca02c" stroke-width="2.78"/>
<line x1="211.4" y1="270.0" x2="579.5" y2="385.2" stroke="#d62728"/>
<line x1="579.5" y1="385.2" x2="947.5" y2="403.5" stroke="#d62728"/>
<line x1="947.5" y1="403.5" x2="1315.6" y2="257.5" stroke="#d62728"/>
<circle cx="211.4" cy="270.0" r="8.35" fill="#d62728" stroke="#d62728" stroke-width="2.78"/>
<circle cx="579.5" cy="385.2" r="8.35" fill="#d62728" stroke="#d62728" stroke-width="2.78"/>
<circle cx="947.5" cy="403.5" r="8.35" fill="#d62728" stroke="#d62728" stroke-width="2.78"/>
<circle cx="1315.6" cy="257.5" r="8.35" fill="#d62728" stroke="#d62728" stroke-width="2.78"/>
<line x1="211.4" y1="352.7" x2="579.5" y2="316.5" stroke="#9467bd"/>
<line x1="579.5" y1="316.5" x2="947.5" y2="333.5" stroke="#9467bd"/>
<line x1="947.5" y1="333.5" x2="1315.6" y2="220.3" stroke="#9467bd"/>
<circle cx="211.4" cy="352.7" r="8.35" fill="#9467bd" stroke="#9467bd" stroke-width="2.78"/>
<circle cx="579.5" cy="316.5" r="8.35" fill="#9467bd" stroke="#9467bd" stroke-width="2.78"/>
<circle cx="947.5" cy="333.5" r="8.35" fill="#9467bd" stroke="#9467bd" stroke-width="2.78"/>
<circle cx="1315.6" cy="220.3" r="8.35" fill="#9467bd" stroke="#9467bd" stroke-width="2.78"/>
</g>
<g stroke="#000" stroke-width="2.2">
<line x1="146.3" y1="148.0" x2="156.0" y2="148.0"/>
<line x1="146.3" y1="237.4" x2="156.0" y2="237.4"/>
<line x1="146.3" y1="326.9" x2="156.0" y2="326.9"/>
<line x1="146.3" y1="416.3" x2="156.0" y2="416.3"/>
<line x1="146.3" y1="505.75" x2="156.0" y2="505.75"/>
<line x1="146.3" y1="595.2" x2="156.0" y2="595.2"/>
<line x1="210.8" y1="683.0" x2="210.8" y2="692.7"/>
<line x1="578.9" y1="683.0" x2="578.9" y2="692.7"/>
<line x1="946.9" y1="683.0" x2="946.9" y2="692.7"/>
<line x1="1315.0" y1="683.0" x2="1315.0" y2="692.7"/>
</g>
<g font-size="27.78px">
<text x="136.4" y="158.9" text-anchor="end">2.0</text>
<text x="136.4" y="248.3" text-anchor="end">1.5</text>
<text x="136.4" y="337.8" text-anchor="end">1.0</text>
<text x="136.4" y="427.2" text-anchor="end">0.5</text>
<text x="136.4" y="516.6" text-anchor="end">0.0</text>
<text x="136.4" y="606.1" text-anchor="end">−0.5</text>
<text x="210.8" y="725" text-anchor="middle">1</text>
<text x="578.9" y="725" text-anchor="middle">2</text>
<text x="946.9" y="725" text-anchor="middle">3</text>
<text x="1315.0" y="725" text-anchor="middle">4</text>
<text x="763.9" y="764" text-anchor="middle" font-size="27.55px">Timepoint</text>
<text transform="translate(54.2,418.5) rotate(-90)" text-anchor="middle">Loading</text>
</g>
<rect x="156.0" y="146.8" width="1214.0" height="536.2" fill="none" stroke="#000" stroke-width="2.2"/>
<rect x="626.4" y="-80" width="274.30000000000007" height="752.6" rx="4.5" ry="4.5" fill="#fff" fill-opacity="0.8" stroke="#ccc" stroke-opacity="0.8" stroke-width="2.8"/>
<g font-size="22.0px">
<line x1="635.2" y1="-33.48" x2="679.6" y2="-33.48" stroke="#1f77b4" stroke-width="4.17" stroke-linecap="square"/>
<circle cx="657.4" cy="-33.48" r="8.35" fill="#1f77b4" stroke="#1f77b4" stroke-width="2.78"/>
<text x="696.8" y="-25.48">C1</text>
<line x1="635.2" y1="-2.32" x2="679.6" y2="-2.32" stroke="#ff7f0e" stroke-width="4.17" stroke-linecap="square"/>
<circle cx="657.4" cy="-2.32" r="8.35" fill="#ff7f0e" stroke="#ff7f0e" stroke-width="2.78"/>
<text x="696.8" y="5.68">C2</text>
<line x1="635.2" y1="28.84" x2="679.6" y2="28.84" stroke="#2ca02c" stroke-width="4.17" stroke-linecap="square"/>
<circle cx="657.4" cy="28.84" r="8.35" fill="#2ca02c" stroke="#2ca02c" stroke-width="2.78"/>
<text x="696.8" y="36.84">C3</text>
<line x1="635.2" y1="60.01" x2="679.6" y2="60.01" stroke="#d62728" stroke-width="4.17" stroke-linecap="square"/>
<circle cx="657.4" cy="60.01" r="8.35" fill="#d62728" stroke="#d62728" stroke-width="2.78"/>
<text x="696.8" y="68.01">C4</text>
<line x1="635.2" y1="91.17" x2="679.6" y2="91.17" stroke="#9467bd" stroke-width="4.17" stroke-linecap="square"/>
<circle cx="657.4" cy="91.17" r="8.35" fill="#9467bd" stroke="#9467bd" stroke-width="2.78"/>
<text x="696.8" y="99.17">C5</text>
<line x1="635.2" y1="122.34" x2="679.6" y2="122.34" stroke="#8c564b" stroke-width="4.17" stroke-linecap="square"/>
<circle cx="657.4" cy="122.34" r="8.35" fill="#8c564b" stroke="#8c564b" stroke-width="2.78"/>
<text x="696.8" y="130.34">C6</text>
<line x1="635.2" y1="153.50" x2="679.6" y2="153.50" stroke="#e377c2" stroke-width="4.17" stroke-linecap="square"/>
<circle cx="657.4" cy="153.50" r="8.35" fill="#e377c2" stroke="#e377c2" stroke-width="2.78"/>
<text x="696.8" y="161.50">C7</text>
<line x1="635.2" y1="184.67" x2="679.6" y2="184.67" stroke="#7f7f7f" stroke-width="4.17" stroke-linecap="square"/>
<circle cx="657.4" cy="184.67" r="8.35" fill="#7f7f7f" stroke="#7f7f7f" stroke-width="2.78"/>
<text x="696.8" y="192.67">C8</text>
<line x1="635.2" y1="215.84" x2="679.6" y2="215.84" stroke="#bcbd22" stroke-width="4.17" stroke-linecap="square"/>
<circle cx="657.4" cy="215.84" r="8.35" fill="#bcbd22" stroke="#bcbd22" stroke-width="2.78"/>
<text x="696.8" y="223.84">C9</text>
<line x1="635.2" y1="247.00" x2="679.6" y2="247.00" stroke="#17becf" stroke-width="4.17" stroke-linecap="square"/>
<circle cx="657.4" cy="247.00" r="8.35" fill="#17becf" stroke="#17becf" stroke-width="2.78"/>
<text x="696.8" y="255.00">C10</text>
<line x1="635.2" y1="278.16" x2="679.6" y2="278.16" stroke="#1f77b4" stroke-width="4.17" stroke-linecap="square"/>
<circle cx="657.4" cy="278.16" r="8.35" fill="#1f77b4" stroke="#1f77b4" stroke-width="2.78"/>
<text x="696.8" y="286.16">C11</text>
<line x1="635.2" y1="309.33" x2="679.6" y2="309.33" stroke="#ff7f0e" stroke-width="4.17" stroke-linecap="square"/>
<circle cx="657.4" cy="309.33" r="8.35" fill="#ff7f0e" stroke="#ff7f0e" stroke-width="2.78"/>
<text x="696.8" y="317.33">C12</text>
<line x1="635.2" y1="340.50" x2="679.6" y2="340.50" stroke="#2ca02c" stroke-width="4.17" stroke-linecap="square"/>
<circle cx="657.4" cy="340.50" r="8.35" fill="#2ca02c" stroke="#2ca02c" stroke-width="2.78"/>
<text x="696.8" y="348.50">C13</text>
<line x1="635.2" y1="371.66" x2="679.6" y2="371.66" stroke="#d62728" stroke-width="4.17" stroke-linecap="square"/>
<circle cx="657.4" cy="371.66" r="8.35" fill="#d62728" stroke="#d62728" stroke-width="2.78"/>
<text x="696.8" y="379.66">C14</text>
<line x1="635.2" y1="402.83" x2="679.6" y2="402.83" stroke="#9467bd" stroke-width="4.17" stroke-linecap="square"/>
<circle cx="657.4" cy="402.83" r="8.35" fill="#9467bd" stroke="#9467bd" stroke-width="2.78"/>
<text x="696.8" y="410.83">C15</text>
<line x1="635.2" y1="433.99" x2="679.6" y2="433.99" stroke="#8c564b" stroke-width="4.17" stroke-linecap="square"/>
<circle cx="657.4" cy="433.99" r="8.35" fill="#8c564b" stroke="#8c564b" stroke-width="2.78"/>
<text x="696.8" y="441.99">C16</text>
<line x1="635.2" y1="465.15" x2="679.6" y2="465.15" stroke="#e377c2" stroke-width="4.17" stroke-linecap="square"/>
<circle cx="657.4" cy="465.15" r="8.35" fill="#e377c2" stroke="#e377c2" stroke-width="2.78"/>
<text x="696.8" y="473.15">C17</text>
<line x1="635.2" y1="496.32" x2="679.6" y2="496.32" stroke="#7f7f7f" stroke-width="4.17" stroke-linecap="square"/>
<circle cx="657.4" cy="496.32" r="8.35" fill="#7f7f7f" stroke="#7f7f7f" stroke-width="2.78"/>
<text x="696.8" y="504.32">C18</text>
<line x1="635.2" y1="527.49" x2="679.6" y2="527.49" stroke="#bcbd22" stroke-width="4.17" stroke-linecap="square"/>
<circle cx="657.4" cy="527.49" r="8.35" fill="#bcbd22" stroke="#bcbd22" stroke-width="2.78"/>
<text x="696.8" y="535.49">C19</text>
<line x1="635.2" y1="558.65" x2="679.6" y2="558.65" stroke="#17becf" stroke-width="4.17" stroke-linecap="square"/>
<circle cx="657.4" cy="558.65" r="8.35" fill="#17becf" stroke="#17becf" stroke-width="2.78"/>
<text x="696.8" y="566.65">C20</text>
<line x1="635.2" y1="589.82" x2="679.6" y2="589.82" stroke="#1f77b4" stroke-width="4.17" stroke-linecap="square"/>
<circle cx="657.4" cy="589.82" r="8.35" fill="#1f77b4" stroke="#1f77b4" stroke-width="2.78"/>
<text x="696.8" y="597.82">C21</text>
<line x1="635.2" y1="620.98" x2="679.6" y2="620.98" stroke="#ff7f0e" stroke-width="4.17" stroke-linecap="square"/>
<circle cx="657.4" cy="620.98" r="8.35" fill="#ff7f0e" stroke="#ff7f0e" stroke-width="2.78"/>
<text x="696.8" y="628.98">C22</text>
<line x1="635.2" y1="652.14" x2="679.6" y2="652.14" stroke="#2ca02c" stroke-width="4.17" stroke-linecap="square"/>
<circle cx="657.4" cy="652.14" r="8.35" fill="#2ca02c" stroke="#2ca02c" stroke-width="2.78"/>
<text x="696.8" y="660.14">C23</text>
<line x1="785.2" y1="-33.48" x2="829.6" y2="-33.48" stroke="#d62728" stroke-width="4.17" stroke-linecap="square"/>
<circle cx="807.4" cy="-33.48" r="8.35" fill="#d62728" stroke="#d62728" stroke-width="2.78"/>
<text x="848.0" y="-25.48">C24</text>
<line x1="785.2" y1="-2.32" x2="829.6" y2="-2.32" stroke="#9467bd" stroke-width="4.17" stroke-linecap="square"/>
<circle cx="807.4" cy="-2.32" r="8.35" fill="#9467bd" stroke="#9467bd" stroke-width="2.78"/>
<text x="848.0" y="5.68">C25</text>
<line x1="785.2" y1="28.84" x2="829.6" y2="28.84" stroke="#8c564b" stroke-width="4.17" stroke-linecap="square"/>
<circle cx="807.4" cy="28.84" r="8.35" fill="#8c564b" stroke="#8c564b" stroke-width="2.78"/>
<text x="848.0" y="36.84">C26</text>
<line x1="785.2" y1="60.01" x2="829.6" y2="60.01" stroke="#e377c2" stroke-width="4.17" stroke-linecap="square"/>
<circle cx="807.4" cy="60.01" r="8.35" fill="#e377c2" stroke="#e377c2" stroke-width="2.78"/>
<text x="848.0" y="68.01">C27</text>
<line x1="785.2" y1="91.17" x2="829.6" y2="91.17" stroke="#7f7f7f" stroke-width="4.17" stroke-linecap="square"/>
<circle cx="807.4" cy="91.17" r="8.35" fill="#7f7f7f" stroke="#7f7f7f" stroke-width="2.78"/>
<text x="848.0" y="99.17">C28</text>
<line x1="785.2" y1="122.34" x2="829.6" y2="122.34" stroke="#bcbd22" stroke-width="4.17" stroke-linecap="square"/>
<circle cx="807.4" cy="122.34" r="8.35" fill="#bcbd22" stroke="#bcbd22" stroke-width="2.78"/>
<text x="848.0" y="130.34">C29</text>
<line x1="785.2" y1="153.50" x2="829.6" y2="153.50" stroke="#17becf" stroke-width="4.17" stroke-linecap="square"/>
<circle cx="807.4" cy="153.50" r="8.35" fill="#17becf" stroke="#17becf" stroke-width="2.78"/>
<text x="848.0" y="161.50">C30</text>
<line x1="785.2" y1="184.67" x2="829.6" y2="184.67" stroke="#1f77b4" stroke-width="4.17" stroke-linecap="square"/>
<circle cx="807.4" cy="184.67" r="8.35" fill="#1f77b4" stroke="#1f77b4" stroke-width="2.78"/>
<text x="848.0" y="192.67">C31</text>
<line x1="785.2" y1="215.84" x2="829.6" y2="215.84" stroke="#ff7f0e" stroke-width="4.17" stroke-linecap="square"/>
<circle cx="807.4" cy="215.84" r="8.35" fill="#ff7f0e" stroke="#ff7f0e" stroke-width="2.78"/>
<text x="848.0" y="223.84">C32</text>
<line x1="785.2" y1="247.00" x2="829.6" y2="247.00" stroke="#2ca02c" stroke-width="4.17" stroke-linecap="square"/>
<circle cx="807.4" cy="247.00" r="8.35" fill="#2ca02c" stroke="#2ca02c" stroke-width="2.78"/>
<text x="848.0" y="255.00">C33</text>
<line x1="785.2" y1="278.16" x2="829.6" y2="278.16" stroke="#d62728" stroke-width="4.17" stroke-linecap="square"/>
<circle cx="807.4" cy="278.16" r="8.35" fill="#d62728" stroke="#d62728" stroke-width="2.78"/>
<text x="848.0" y="286.16">C34</text>
<line x1="785.2" y1="309.33" x2="829.6" y2="309.33" stroke="#9467bd" stroke-width="4.17" stroke-linecap="square"/>
<circle cx="807.4" cy="309.33" r="8.35" fill="#9467bd" stroke="#9467bd" stroke-width="2.78"/>
<text x="848.0" y="317.33">C35</text>
<line x1="785.2" y1="340.50" x2="829.6" y2="340.50" stroke="#8c564b" stroke-width="4.17" stroke-linecap="square"/>
<circle cx="807.4" cy="340.50" r="8.35" fill="#8c564b" stroke="#8c564b" stroke-width="2.78"/>
<text x="848.0" y="348.50">C36</text>
<line x1="785.2" y1="371.66" x2="829.6" y2="371.66" stroke="#e377c2" stroke-width="4.17" stroke-linecap="square"/>
<circle cx="807.4" cy="371.66" r="8.35" fill="#e377c2" stroke="#e377c2" stroke-width="2.78"/>
<text x="848.0" y="379.66">C37</text>
<line x1="785.2" y1="402.83" x2="829.6" y2="402.83" stroke="#7f7f7f" stroke-width="4.17" stroke-linecap="square"/>
<circle cx="807.4" cy="402.83" r="8.35" fill="#7f7f7f" stroke="#7f7f7f" stroke-width="2.78"/>
<text x="848.0" y="410.83">C38</text>
<line x1="785.2" y1="433.99" x2="829.6" y2="433.99" stroke="#bcbd22" stroke-width="4.17" stroke-linecap="square"/>
<circle cx="807.4" cy="433.99" r="8.35" fill="#bcbd22" stroke="#bcbd22" stroke-width="2.78"/>
<text x="848.0" y="441.99">C39</text>
<line x1="785.2" y1="465.15" x2="829.6" y2="465.15" stroke="#17becf" stroke-width="4.17" stroke-linecap="square"/>
<circle cx="807.4" cy="465.15" r="8.35" fill="#17becf" stroke="#17becf" stroke-width="2.78"/>
<text x="848.0" y="473.15">C40</text>
<line x1="785.2" y1="496.32" x2="829.6" y2="496.32" stroke="#1f77b4" stroke-width="4.17" stroke-linecap="square"/>
<circle cx="807.4" cy="496.32" r="8.35" fill="#1f77b4" stroke="#1f77b4" stroke-width="2.78"/>
<text x="848.0" y="504.32">C41</text>
<line x1="785.2" y1="527.49" x2="829.6" y2="527.49" stroke="#ff7f0e" stroke-width="4.17" stroke-linecap="square"/>
<circle cx="807.4" cy="527.49" r="8.35" fill="#ff7f0e" stroke="#ff7f0e" stroke-width="2.78"/>
<text x="848.0" y="535.49">C42</text>
<line x1="785.2" y1="558.65" x2="829.6" y2="558.65" stroke="#2ca02c" stroke-width="4.17" stroke-linecap="square"/>
<circle cx="807.4" cy="558.65" r="8.35" fill="#2ca02c" stroke="#2ca02c" stroke-width="2.78"/>
<text x="848.0" y="566.65">C43</text>
<line x1="785.2" y1="589.82" x2="829.6" y2="589.82" stroke="#d62728" stroke-width="4.17" stroke-linecap="square"/>
<circle cx="807.4" cy="589.82" r="8.35" fill="#d62728" stroke="#d62728" stroke-width="2.78"/>
<text x="848.0" y="597.82">C44</text>
<line x1="785.2" y1="620.98" x2="829.6" y2="620.98" stroke="#9467bd" stroke-width="4.17" stroke-linecap="square"/>
<circle cx="807.4" cy="620.98" r="8.35" fill="#9467bd" stroke="#9467bd" stroke-width="2.78"/>
<text x="848.0" y="628.98">C45</text>
</g>
</svg></body></html>
